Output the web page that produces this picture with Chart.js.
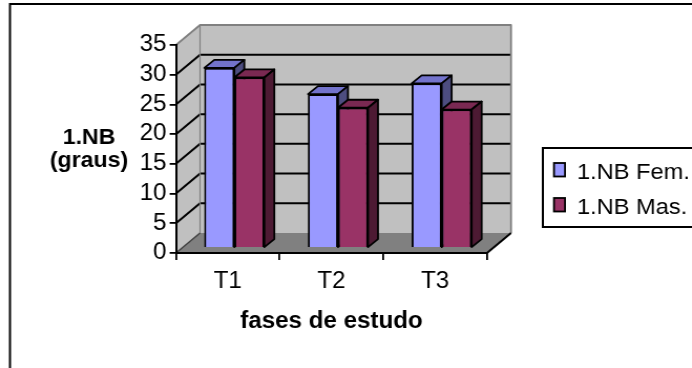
<!DOCTYPE html>
<html>
<head>
<meta charset="utf-8">
<script src="https://cdn.jsdelivr.net/npm/chart.js@4.4.1/dist/chart.umd.min.js"></script>
<style>
  html, body { margin: 0; padding: 0; background: #fff; overflow: hidden; }
  /* the chart is laid out slightly narrower and widened horizontally */
  #wrap { width: 659px; height: 368px; transform: scaleX(1.05); transform-origin: 0 0; }
</style>
</head>
<body>
<div id="wrap"><canvas id="c"></canvas></div>
<script>
// ---- data ----
const categories = ['T1', 'T2', 'T3'];
const seriesNames = ['1.NB Fem.', '1.NB Mas.'];
const femValues = [30.3, 25.9, 27.7];
const masValues = [28.7, 23.6, 23.3];
const yTicks = [0, 5, 10, 15, 20, 25, 30, 35];
const yTitleLines = ['1.NB', '(graus)'];
const xTitle = 'fases de estudo';

// ---- styling ----
const frontColors = ['#9999ff', '#993366'];
const topColors = ['#7373cc', '#7a2952'];
const sideColors = ['#4d4d80', '#4d1a33'];
const FONT = "'Liberation Sans', Arial, sans-serif";

// oblique offsets of the 3D box
const BACK = { dx: 22.9, dy: -20 };      // front plane -> back wall
const BAR_SHIFT = { dx: 6.2, dy: -5 };   // front plane -> bar front faces
const BAR_DEPTH = { dx: 9.5, dy: -8 };   // bar front face -> bar back face

function poly(ctx, pts, fill, stroke, lw) {
  ctx.beginPath();
  ctx.moveTo(pts[0][0], pts[0][1]);
  for (let i = 1; i < pts.length; i++) ctx.lineTo(pts[i][0], pts[i][1]);
  ctx.closePath();
  if (fill) { ctx.fillStyle = fill; ctx.fill(); }
  if (stroke) { ctx.strokeStyle = stroke; ctx.lineWidth = lw || 1; ctx.stroke(); }
}

function seg(ctx, pts, color, lw) {
  ctx.beginPath();
  ctx.moveTo(pts[0][0], pts[0][1]);
  for (let i = 1; i < pts.length; i++) ctx.lineTo(pts[i][0], pts[i][1]);
  ctx.strokeStyle = color; ctx.lineWidth = lw; ctx.stroke();
}

// background, outer frame, walls, floor and wall gridlines
const wallsPlugin = {
  id: 'walls',
  beforeDraw(chart) {
    const { ctx, chartArea: a } = chart;
    const ys = chart.scales.y;
    const L = a.left, R = a.right, T = a.top, B = a.bottom;
    const dx = BACK.dx, dy = BACK.dy;
    ctx.save();
    ctx.fillStyle = '#fff';
    ctx.fillRect(0, 0, chart.width, chart.height);
    ctx.strokeStyle = '#000';
    ctx.lineWidth = 2;
    ctx.strokeRect(9.5, 4, chart.width + 20, chart.height + 20);

    ctx.lineJoin = 'round';
    poly(ctx, [[L, B], [L + dx, B + dy], [R + dx, B + dy], [R, B]], '#808080');
    poly(ctx, [[L, T], [L + dx, T + dy], [L + dx, B + dy], [L, B]], '#c0c0c0');
    poly(ctx, [[L + dx, T + dy], [R + dx, T + dy], [R + dx, B + dy], [L + dx, B + dy]], '#c0c0c0');

    ys.ticks.forEach(t => {
      if (t.value <= ys.min || t.value >= ys.max) return;
      const py = ys.getPixelForValue(t.value);
      seg(ctx, [[L, py], [L + dx, py + dy], [R + dx, py + dy]], '#000', 2);
    });

    // wall edges
    seg(ctx, [[L, T], [L + dx, T + dy], [R + dx, T + dy], [R + dx, B + dy]], '#808080', 1.8);
    seg(ctx, [[L + dx, T + dy], [L + dx, B + dy]], '#808080', 1.2);
    seg(ctx, [[L, B], [L + dx, B + dy]], '#404040', 1.5);
    seg(ctx, [[R, B], [R + dx, B + dy]], '#000', 2);
    ctx.restore();
  }
};

// bar top and side faces, drawn on the shifted bar plane
const barsPlugin = {
  id: 'bars3d',
  beforeDatasetsDraw(chart) {
    chart.ctx.save();
    chart.ctx.translate(BAR_SHIFT.dx, BAR_SHIFT.dy);
  },
  afterDatasetsDraw(chart) {
    const ctx = chart.ctx;
    const dx = BAR_DEPTH.dx, dy = BAR_DEPTH.dy;
    ctx.lineJoin = 'round';
    chart.data.datasets.forEach((ds, di) => {
      const meta = chart.getDatasetMeta(di);
      meta.data.forEach(bar => {
        bar.draw(ctx);
        const { x, y, base, width } = bar.getProps(['x', 'y', 'base', 'width'], true);
        const l = x - width / 2, r = x + width / 2;
        poly(ctx, [[l, y], [l + dx, y + dy], [r + dx, y + dy], [r, y]], topColors[di], '#000', 1.8);
        poly(ctx, [[r, y], [r + dx, y + dy], [r + dx, base + dy], [r, base]], sideColors[di], '#000', 1.8);
      });
    });
    ctx.restore();
  }
};

// horizontal y-axis title and boxed legend
const labelsPlugin = {
  id: 'labels',
  afterDraw(chart) {
    const ctx = chart.ctx;
    ctx.save();
    ctx.fillStyle = '#000';
    ctx.textAlign = 'center';
    ctx.textBaseline = 'alphabetic';
    ctx.font = 'bold 22px ' + FONT;
    ctx.fillText(yTitleLines[0], 84.8, 143.5);
    ctx.fillText(yTitleLines[1], 84.8, 167);

    // legend frame
    ctx.strokeStyle = '#000';
    ctx.lineWidth = 2;
    ctx.strokeRect(517, 148, 200, 79);
    ctx.font = '22.5px ' + FONT;
    ctx.textAlign = 'left';
    const rows = [179, 214];
    chart.data.datasets.forEach((ds, i) => {
      const by = rows[i];
      ctx.fillStyle = frontColors[i];
      ctx.fillRect(527.6, by - 16, 10.5, 13.5);
      ctx.lineWidth = 1.8;
      ctx.strokeRect(527.6, by - 16, 10.5, 13.5);
      ctx.fillStyle = '#000';
      ctx.fillText(ds.label, 549.5, by);
    });
    ctx.restore();
  }
};

new Chart(document.getElementById('c'), {
  type: 'bar',
  data: {
    labels: categories,
    datasets: [
      { label: seriesNames[0], data: femValues, backgroundColor: frontColors[0] },
      { label: seriesNames[1], data: masValues, backgroundColor: frontColors[1] }
    ]
  },
  options: {
    responsive: true,
    maintainAspectRatio: false,
    animation: false,
    devicePixelRatio: 1,
    layout: { padding: { left: 107.6, right: 195.2, top: 45, bottom: 25 } },
    datasets: {
      bar: {
        borderColor: '#000',
        borderWidth: 1.8,
        barPercentage: 1.0,
        categoryPercentage: 0.579,
        clip: false
      }
    },
    plugins: {
      legend: { display: false },
      tooltip: { enabled: false }
    },
    scales: {
      x: {
        offset: true,
        grid: { offset: true, drawOnChartArea: false, drawTicks: true, tickLength: 7, color: '#000', lineWidth: 1.8 },
        border: { display: true, color: '#000', width: 2 },
        ticks: { color: '#000', font: { family: FONT, size: 23 }, padding: 8, maxRotation: 0, autoSkip: false },
        title: { display: true, text: xTitle, color: '#000', font: { family: FONT, size: 23, weight: 'bold' }, padding: { top: 0, bottom: 8 } },
        afterFit(scale) { scale.height = 90; }
      },
      y: {
        min: yTicks[0],
        max: yTicks[yTicks.length - 1],
        ticks: { stepSize: yTicks[1] - yTicks[0], color: '#000', font: { family: FONT, size: 23 }, padding: 3, autoSkip: false },
        grid: { drawOnChartArea: false, drawTicks: true, tickLength: 6, color: '#000', lineWidth: 1.8 },
        border: { display: true, color: '#000', width: 2 },
        afterFit(scale) { scale.width = 60; }
      }
    }
  },
  plugins: [wallsPlugin, barsPlugin, labelsPlugin]
});
</script>
</body>
</html>
